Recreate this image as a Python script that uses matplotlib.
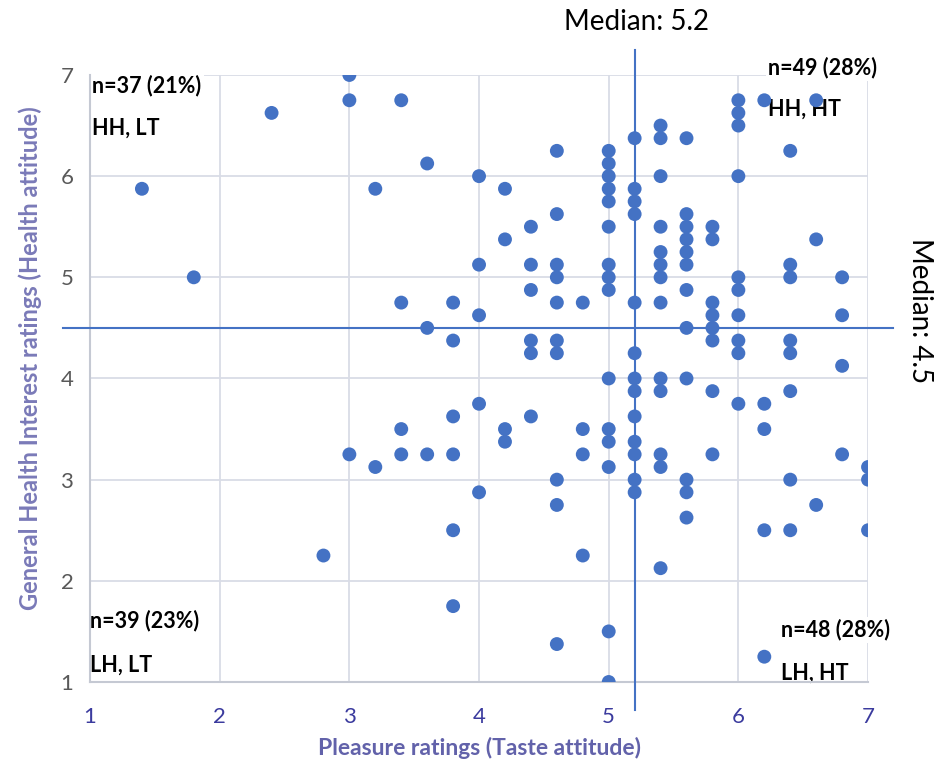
import matplotlib
matplotlib.use("Agg")
import matplotlib.pyplot as plt

'''
Health attitude vs taste attitude scatter with median split quadrants.
'''

# Pleasure ratings (x) and the health interest ratings found at each one (y)
pleasure_levels = [1.4, 1.8, 2.4, 2.8, 3.0, 3.2, 3.4, 3.6, 3.8, 4.0, 4.2, 4.4,
                   4.6, 4.8, 5.0, 5.2, 5.4, 5.6, 5.8, 6.0, 6.2, 6.4, 6.6, 6.8, 7.0]
health_by_level = [
    [5.875],
    [5.0],
    [6.625],
    [2.25],
    [7.0, 6.75, 3.25],
    [5.875, 3.125],
    [6.75, 4.75, 3.5, 3.25],
    [6.125, 4.5, 3.25],
    [4.75, 4.375, 3.625, 3.25, 2.5, 1.75],
    [6.0, 5.125, 4.625, 3.75, 2.875],
    [5.875, 5.375, 3.5, 3.375],
    [5.5, 5.125, 4.875, 4.375, 4.25, 3.625],
    [6.25, 5.625, 5.125, 5.0, 4.75, 4.375, 4.25, 3.0, 2.75, 1.375],
    [4.75, 3.5, 3.25, 2.25],
    [6.25, 6.125, 6.0, 5.875, 5.75, 5.5, 5.125, 5.0, 4.875, 4.0, 3.5, 3.375,
     3.125, 1.5, 1.0],
    [6.375, 5.875, 5.75, 5.625, 4.75, 4.25, 4.0, 3.875, 3.625, 3.375, 3.25,
     3.0, 2.875],
    [6.5, 6.375, 6.0, 5.5, 5.25, 5.125, 5.0, 4.75, 4.0, 3.875, 3.25, 3.125,
     2.125],
    [6.375, 5.625, 5.5, 5.375, 5.25, 5.125, 4.875, 4.5, 4.0, 3.0, 2.875, 2.625],
    [5.5, 5.375, 4.75, 4.625, 4.5, 4.375, 3.875, 3.25],
    [6.75, 6.625, 6.5, 6.0, 5.0, 4.875, 4.625, 4.375, 4.25, 3.75],
    [6.75, 3.75, 3.5, 2.5, 1.25],
    [6.25, 5.125, 5.0, 4.375, 4.25, 3.875, 3.0, 2.5],
    [6.75, 5.375, 2.75],
    [5.0, 4.625, 4.125, 3.25],
    [3.125, 3.0, 2.5],
]

median_x = 5.2
median_y = 4.5
ticks = [1, 2, 3, 4, 5, 6, 7]

quadrant_counts = ["n=37 (21%)", "n=49 (28%)", "n=39 (23%)", "n=48 (28%)"]
quadrant_names = ["HH, LT", "HH, HT", "LH, LT", "LH, HT"]

BLUE = "#4472C4"
GRID = "#d9dce6"
FONT = ["Lato", "DejaVu Sans"]


def flatten_points():
    """Turns the per-level lists into two flat x / y lists."""
    xs, ys = [], []
    for x, col in zip(pleasure_levels, health_by_level):
        for y in col:
            xs.append(x)
            ys.append(y)
    return xs, ys


def draw_quadrant_labels(ax):
    # (x, y of count line, y of name line) in axes fraction
    spots = [(0.003, 0.983, 0.913), (0.871, 1.012, 0.943),
             (0.0, 0.102, 0.028), (0.888, 0.086, 0.015)]
    box = dict(facecolor="white", edgecolor="none", pad=1.5)
    for (x, y1, y2), count, name in zip(spots, quadrant_counts, quadrant_names):
        ax.text(x, y1, count, transform=ax.transAxes, fontsize=15.5,
                fontweight="bold", ha="left", va="center", bbox=box,
                zorder=2, clip_on=False)
        ax.text(x, y2, name, transform=ax.transAxes, fontsize=15.5,
                fontweight="bold", ha="left", va="center", bbox=box,
                zorder=2, clip_on=False)


def main():
    plt.rcParams["font.family"] = FONT
    fig = plt.figure(figsize=(9.36, 7.65), dpi=100)
    ax = fig.add_axes([0.0962, 0.1085, 0.8312, 0.7935])

    xs, ys = flatten_points()
    ax.scatter(xs, ys, s=100, color=BLUE, edgecolors="none", zorder=3)

    # median split lines run a little past the axes
    ax.plot([median_x, median_x], [0.72, 7.25], color=BLUE, lw=1.5,
            clip_on=False, zorder=4)
    ax.plot([0.79, 7.19], [median_y, median_y], color=BLUE, lw=1.5,
            clip_on=False, zorder=4)

    ax.set_xlim(1, 7)
    ax.set_ylim(1, 7)
    ax.set_xticks(ticks)
    ax.set_yticks(ticks)
    ax.grid(True, color=GRID, lw=1.3, zorder=0)
    ax.set_axisbelow(True)
    for side in ["top", "right"]:
        ax.spines[side].set_visible(False)
    for side in ["left", "bottom"]:
        ax.spines[side].set_color("#c5c9d3")
        ax.spines[side].set_linewidth(1.5)
    ax.tick_params(axis="both", length=0, labelsize=16)
    ax.tick_params(axis="x", pad=18, labelcolor="#3b3b9e")
    ax.tick_params(axis="y", pad=12, labelcolor="#595959")

    ax.set_xlabel("Pleasure ratings (Taste attitude)", fontsize=16.5,
                  fontweight="bold", color="#6262aa")
    ax.set_ylabel("General Health Interest ratings (Health attitude)",
                  fontsize=17, fontweight="bold", color="#7a7ab8")
    ax.xaxis.set_label_coords(0.501, -0.109)
    ax.xaxis.label.set_va("center")
    ax.yaxis.set_label_coords(-0.077, 0.534)
    ax.yaxis.label.set_va("center")

    draw_quadrant_labels(ax)

    fig.text(637 / 936, 1 - 22 / 765, f"Median: {median_x}", fontsize=20,
             ha="center", va="center")
    fig.text(920 / 936, 1 - 311 / 765, f"Median: {median_y}", fontsize=20,
             ha="center", va="center", rotation=-90)

    fig.savefig("out.png", dpi=100, facecolor="white")
    plt.close(fig)


if __name__ == "__main__":
    main()
